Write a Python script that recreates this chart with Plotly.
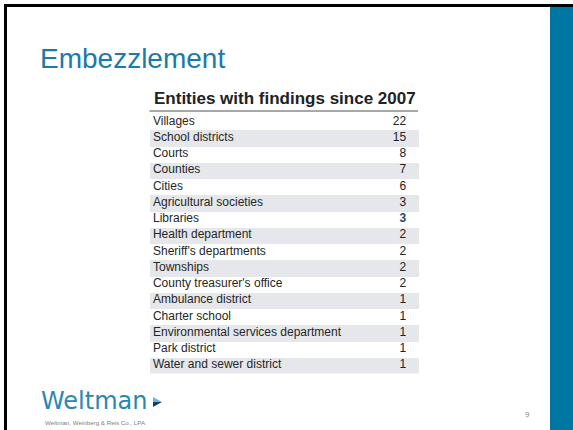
import plotly.graph_objects as go

W, H = 573, 430

title_text = "Embezzlement"
table_title = "Entities with findings since 2007"
entities = [
    "Villages", "School districts", "Courts", "Counties", "Cities",
    "Agricultural societies", "Libraries", "Health department",
    "Sheriff's departments", "Townships", "County treasurer's office",
    "Ambulance district", "Charter school",
    "Environmental services department", "Park district",
    "Water and sewer district",
]
findings = [22, 15, 8, 7, 6, 3, 3, 2, 2, 2, 2, 1, 1, 1, 1, 1]
logo_text = "Weltman"
logo_sub = "Weltman, Weinberg & Reis Co., LPA"
page_no = "9"

# layout constants (pixels)
TABLE_L, TABLE_R = 150, 419
TABLE_T, TABLE_B = 113.5, 373.5
LABEL_X = 0.011
VALUE_X = 0.952


def px(x):
    return x / W


def py(y):
    return 1 - y / H


shaded = entities[1::2]
val_color = ["#1f4a6e" if e == "Libraries" else "#222222" for e in entities]
val_text = [("<b>%d</b>" % v) if e == "Libraries" else str(v) for e, v in zip(entities, findings)]

fig = go.Figure()
# alternating row shading (full-width bands)
fig.add_trace(go.Bar(
    y=shaded, x=[1] * len(shaded), base=0, orientation="h", width=1,
    marker=dict(color="#e5e7ea", line=dict(width=0)), hoverinfo="skip",
))
# entity labels
fig.add_trace(go.Scatter(
    y=entities, x=[LABEL_X] * len(entities), mode="text", text=entities,
    textposition="middle right", hoverinfo="skip",
    textfont=dict(family="Liberation Sans", size=12, color="#262626"),
))
# finding counts
fig.add_trace(go.Scatter(
    y=entities, x=[VALUE_X] * len(entities), mode="text",
    text=val_text,
    textposition="middle left", hoverinfo="skip",
    textfont=dict(family="Liberation Sans", size=12, color=val_color),
))

shapes = [
    dict(type="rect", xref="paper", yref="paper", x0=px(4), x1=px(7), y0=py(430), y1=py(4),
         fillcolor="black", line=dict(width=0), layer="above"),
    dict(type="rect", xref="paper", yref="paper", x0=px(4), x1=px(573), y0=py(7), y1=py(4),
         fillcolor="black", line=dict(width=0), layer="above"),
    dict(type="rect", xref="paper", yref="paper", x0=px(550), x1=px(573), y0=py(430), y1=py(7),
         fillcolor="#0076a3", line=dict(width=0), layer="above"),
    dict(type="line", xref="paper", yref="paper", x0=px(149.5), x1=px(418), y0=py(111), y1=py(111),
         line=dict(color="#8a8a8a", width=1.5)),
    dict(type="path", xref="paper", yref="paper",
         path="M %f %f L %f %f L %f %f Z" % (px(153), py(397), px(162), py(402), px(153), py(402)),
         fillcolor="#6fb6da", line=dict(width=0)),
    dict(type="path", xref="paper", yref="paper",
         path="M %f %f L %f %f L %f %f Z" % (px(153), py(402), px(162), py(402), px(153), py(407)),
         fillcolor="#1f3c5c", line=dict(width=0)),
]

annotations = [
    dict(text=title_text, x=px(38), y=py(59), xref="paper", yref="paper",
         xanchor="left", yanchor="middle", showarrow=False,
         font=dict(family="Liberation Sans", size=28, color="#1a7aa8")),
    dict(text="<b>%s</b>" % table_title, x=px(152), y=py(98.5), xref="paper", yref="paper",
         xanchor="left", yanchor="middle", showarrow=False,
         font=dict(family="Liberation Sans", size=17, color="#222222")),
    dict(text=logo_text, x=px(39), y=py(401), xref="paper", yref="paper",
         xanchor="left", yanchor="middle", showarrow=False,
         font=dict(family="DejaVu Sans", size=24, color="#2a88b0")),
    dict(text=logo_sub, x=px(43), y=py(422), xref="paper", yref="paper",
         xanchor="left", yanchor="middle", showarrow=False,
         font=dict(family="Liberation Sans", size=6.2, color="#808080")),
    dict(text=page_no, x=px(527), y=py(414), xref="paper", yref="paper",
         xanchor="center", yanchor="middle", showarrow=False,
         font=dict(family="Liberation Sans", size=8, color="#8a8a8a")),
]

fig.update_layout(
    width=W, height=H,
    margin=dict(l=0, r=0, t=0, b=0),
    paper_bgcolor="white", plot_bgcolor="white",
    shapes=shapes, annotations=annotations,
    showlegend=False, bargap=0,
    xaxis=dict(domain=[px(TABLE_L), px(TABLE_R)], range=[0, 1], visible=False, fixedrange=True),
    yaxis=dict(domain=[py(TABLE_B), py(TABLE_T)], type="category", categoryarray=entities,
               categoryorder="array", range=[len(entities) - 0.5, -0.5], visible=False,
               fixedrange=True),
)

fig.write_html("out.html", config=dict(displayModeBar=False),
               post_script="document.body.style.margin='0';document.body.style.overflow='hidden';")
